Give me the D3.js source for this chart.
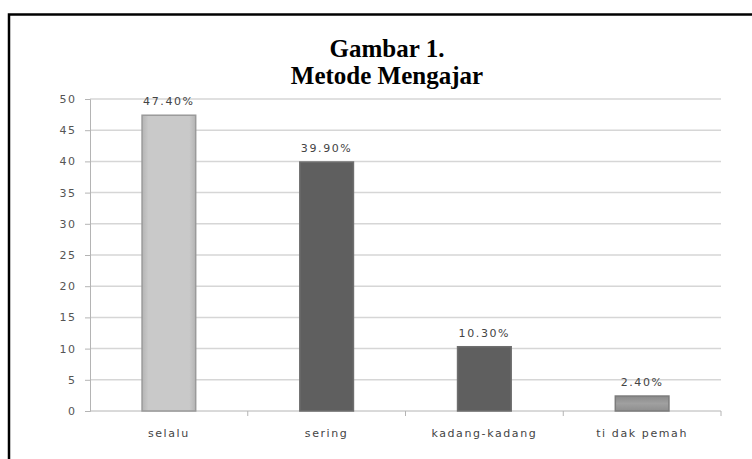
<!DOCTYPE html>
<html>
<head>
<meta charset="utf-8">
<script src="https://cdnjs.cloudflare.com/ajax/libs/d3/7.8.5/d3.min.js"></script>
<style>
  html, body { margin: 0; padding: 0; background: #fff; }
  svg { display: block; }
</style>
</head>
<body>
<script>
// chart data
var categories = ["selalu", "sering", "kadang-kadang", "ti dak pemah"];
var values = [47.4, 39.9, 10.3, 2.4];
var valueLabels = ["47.40%", "39.90%", "10.30%", "2.40%"];
var yTicks = [0, 5, 10, 15, 20, 25, 30, 35, 40, 45, 50];
var titleLines = ["Gambar 1.", "Metode Mengajar"];

// SVG Dimensions
var width = 752;
var height = 459;
var plot = { left: 90, right: 721, top: 99, bottom: 411 };

// bar look, by category index
var barFills = ["url(#gLight)", "#5f5f5f", "#5f5f5f", "url(#gMid)"];
var barStrokes = ["#9a9a9a", "#6e6e6e", "#6e6e6e", "#7c7c7c"];

var svg = d3.select("body").append("svg")
            .attr("width", width)
            .attr("height", height);

var defs = svg.append("defs");
var gl = defs.append("linearGradient").attr("id", "gLight");
gl.append("stop").attr("offset", "0%").attr("stop-color", "#b4b4b4");
gl.append("stop").attr("offset", "12%").attr("stop-color", "#c9c9c9");
gl.append("stop").attr("offset", "88%").attr("stop-color", "#c9c9c9");
gl.append("stop").attr("offset", "100%").attr("stop-color", "#b4b4b4");
var gm = defs.append("linearGradient").attr("id", "gMid").attr("x2", 0).attr("y2", 1);
gm.append("stop").attr("offset", "0%").attr("stop-color", "#8a8a8a");
gm.append("stop").attr("offset", "50%").attr("stop-color", "#a0a0a0");
gm.append("stop").attr("offset", "100%").attr("stop-color", "#8e8e8e");

// frame (top and left edge only, the rest is cut off)
svg.append("path")
    .attr("d", "M9,459V14.5H752")
    .attr("fill", "none")
    .attr("stroke", "#000")
    .attr("stroke-width", 2.5);

var x = d3.scaleBand()
          .domain(categories)
          .range([plot.left, plot.right])
          .paddingInner(0.66)
          .paddingOuter(0.33);

var slots = d3.scaleBand()
              .domain(categories)
              .range([plot.left, plot.right]);

var y = d3.scaleLinear()
          .domain([0, 50])
          .range([plot.bottom, plot.top]);

// gridlines
svg.append("g")
    .selectAll("line")
    .data(yTicks.filter(d => d > 0))
    .enter()
    .append("line")
    .attr("x1", plot.left)
    .attr("x2", plot.right)
    .attr("y1", d => y(d))
    .attr("y2", d => y(d))
    .attr("stroke", "#d6d6d6")
    .attr("stroke-width", 1.5);

// y axis
var yAxis = svg.append("g")
    .attr("transform", "translate(" + plot.left + ",0)")
    .call(d3.axisLeft(y).tickValues(yTicks).tickSize(5).tickPadding(8.5));
yAxis.select(".domain").attr("stroke", "#b4b4b4");
yAxis.selectAll(".tick line").attr("stroke", "#b4b4b4");
yAxis.selectAll("text")
    .attr("fill", "#555")
    .attr("font-family", "DejaVu Sans, sans-serif")
    .attr("font-size", "11px")
    .attr("letter-spacing", "1.5px");

// x axis with ticks on slot edges
var xAxis = svg.append("g")
    .attr("transform", "translate(0," + plot.bottom + ")");
xAxis.append("line")
    .attr("x1", plot.left).attr("x2", plot.right)
    .attr("stroke", "#b4b4b4");
xAxis.selectAll(".edge")
    .data(categories)
    .enter()
    .append("line")
    .attr("class", "edge")
    .attr("x1", d => slots(d) + slots.bandwidth())
    .attr("x2", d => slots(d) + slots.bandwidth())
    .attr("y1", 0).attr("y2", 5)
    .attr("stroke", "#b4b4b4");
xAxis.selectAll("text")
    .data(categories)
    .enter()
    .append("text")
    .attr("x", d => slots(d) + slots.bandwidth() / 2)
    .attr("y", 26)
    .attr("text-anchor", "middle")
    .attr("fill", "#444")
    .attr("font-family", "DejaVu Sans, sans-serif")
    .attr("font-size", "11px")
    .attr("letter-spacing", "1.6px")
    .text(d => d);

// bars
svg.append("g")
    .selectAll("rect")
    .data(values)
    .enter()
    .append("rect")
    .attr("x", (d, i) => x(categories[i]))
    .attr("y", d => y(d))
    .attr("width", x.bandwidth())
    .attr("height", d => y(0) - y(d))
    .attr("fill", (d, i) => barFills[i])
    .attr("stroke", (d, i) => barStrokes[i])
    .attr("stroke-width", 1.5);

// value labels
svg.append("g")
    .selectAll("text")
    .data(values)
    .enter()
    .append("text")
    .attr("x", (d, i) => x(categories[i]) + x.bandwidth() / 2)
    .attr("y", d => y(d) - 10)
    .attr("text-anchor", "middle")
    .attr("fill", "#444")
    .attr("font-family", "DejaVu Sans, sans-serif")
    .attr("font-size", "11px")
    .attr("letter-spacing", "1.6px")
    .text((d, i) => valueLabels[i]);

// title
svg.append("g")
    .selectAll("text")
    .data(titleLines)
    .enter()
    .append("text")
    .attr("x", 387)
    .attr("y", (d, i) => 57 + i * 27)
    .attr("text-anchor", "middle")
    .attr("font-family", "Liberation Serif, Times New Roman, serif")
    .attr("font-weight", "bold")
    .attr("font-size", "25px")
    .text(d => d);
</script>
</body>
</html>
